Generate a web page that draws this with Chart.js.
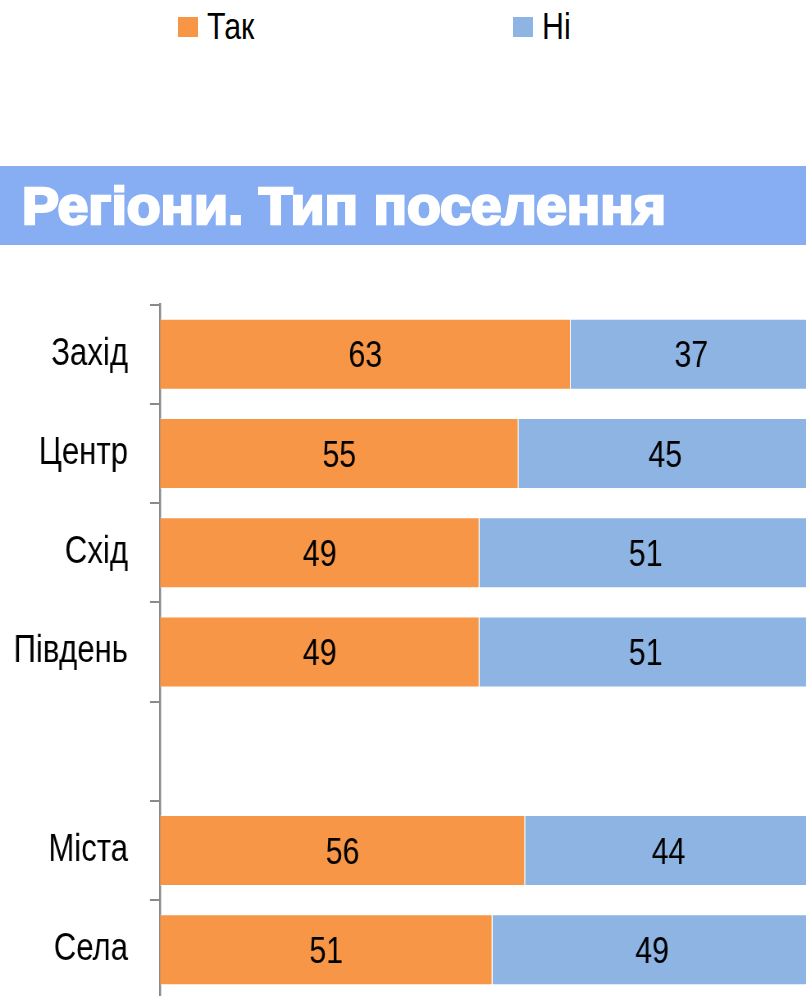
<!DOCTYPE html>
<html lang="uk">
<head>
<meta charset="utf-8">
<title>Регіони. Тип поселення</title>
<script src="https://cdn.jsdelivr.net/npm/chart.js@4"></script>
<style>
  html, body { margin: 0; padding: 0; }
  body { width: 806px; height: 996px; overflow: hidden; background: #fff; position: relative;
         font-family: "Liberation Sans", Arial, sans-serif; }
  .legend-item { position: absolute; top: 5px; height: 44px; display: flex; align-items: center;
                 font-size: 37px; color: #000; }
  .legend-item .sw { width: 20px; height: 20px; margin-right: 9px; flex: none; }
  .legend-item .txt { display: inline-block; transform: scaleX(0.82); transform-origin: 0 50%; }
  .banner { position: absolute; left: 0; top: 166px; width: 806px; height: 79px; background: #87aef2; }
  .banner span { position: absolute; left: 22px; top: 15px; line-height: 1; white-space: nowrap;
                 font-weight: 900; font-size: 51px;
                 color: #fff; -webkit-text-stroke: 2.5px #fff; transform-origin: 0 0; }
  /* графік малюється ширшим і стискається по горизонталі — так шрифт виглядає як Arial Narrow */
  .chart-wrap { position: absolute; left: 0; top: 255px; width: 983px; height: 794px;
                transform: scaleX(0.82); transform-origin: 0 0; }
</style>
</head>
<body>
<div id="legend"></div>
<div class="banner"><span id="title">Регіони. Тип поселення</span></div>
<div class="chart-wrap"><canvas id="chart"></canvas></div>
<script>
// категорії (порожня позиція — відступ між регіонами та типом поселення)
const categories = ["Захід", "Центр", "Схід", "Південь", "", "Міста", "Села"];
const yesValues = [63, 55, 49, 49, null, 56, 51];
const noValues = [37, 45, 51, 51, null, 44, 49];
const seriesNames = ["Так", "Ні"];

const COLORS = { yes: "#f79646", no: "#8db4e2", axis: "#8a8a8a", text: "#000000" };
const FONT = '"Liberation Sans", Arial, sans-serif';
const SX = 0.82; // горизонтальне стиснення

// підписи значень по центру кожного сегмента
const barLabels = {
  id: "barLabels",
  afterDatasetsDraw(chart) {
    const { ctx } = chart;
    ctx.save();
    ctx.font = `37px ${FONT}`;
    ctx.fillStyle = COLORS.text;
    ctx.textAlign = "center";
    ctx.textBaseline = "middle";
    chart.data.datasets.forEach((ds, i) => {
      chart.getDatasetMeta(i).data.forEach((el, j) => {
        const v = ds.data[j];
        if (v == null) return;
        ctx.fillText(String(v), (el.x + el.base) / 2, el.y + 3);
      });
    });
    ctx.restore();
  },
};

const chart = new Chart(document.getElementById("chart"), {
  type: "bar",
  data: {
    labels: categories,
    datasets: [
      { label: seriesNames[0], data: yesValues, backgroundColor: COLORS.yes,
        borderColor: "rgba(255,255,255,0.3)", borderWidth: 1 },
      { label: seriesNames[1], data: noValues, backgroundColor: COLORS.no,
        borderColor: "rgba(255,255,255,0.3)", borderWidth: 1 },
    ],
  },
  options: {
    indexAxis: "y",
    responsive: true,
    maintainAspectRatio: false,
    animation: false,
    layout: { padding: 0 },
    datasets: { bar: { barPercentage: 0.715, categoryPercentage: 1 } },
    plugins: { legend: { display: false }, tooltip: { enabled: false } },
    scales: {
      x: { stacked: true, display: false, min: 0, max: 99.1 },
      y: {
        stacked: true,
        afterFit: (scale) => { scale.width = 160 / SX; },
        ticks: { color: COLORS.text, padding: 22 / SX, font: { family: FONT, size: 38 } },
        grid: { drawOnChartArea: false, offset: true, tickLength: 10 / SX, color: COLORS.axis, lineWidth: 2 },
        border: { color: COLORS.axis, width: 2 / SX },
      },
    },
  },
  plugins: [barLabels],
});

// легенда з тих самих наборів даних
const legendLeft = [178, 513];
document.getElementById("legend").innerHTML = chart.data.datasets.map((d, i) => `
  <div class="legend-item" style="left:${legendLeft[i]}px">
    <span class="sw" style="background:${d.backgroundColor}"></span><span class="txt">${d.label}</span>
  </div>`).join("");

// заголовок розтягуємо до ширини як в оригіналі
const t = document.getElementById("title");
t.style.transform = `scaleX(${644 / t.getBoundingClientRect().width})`;
</script>
</body>
</html>
